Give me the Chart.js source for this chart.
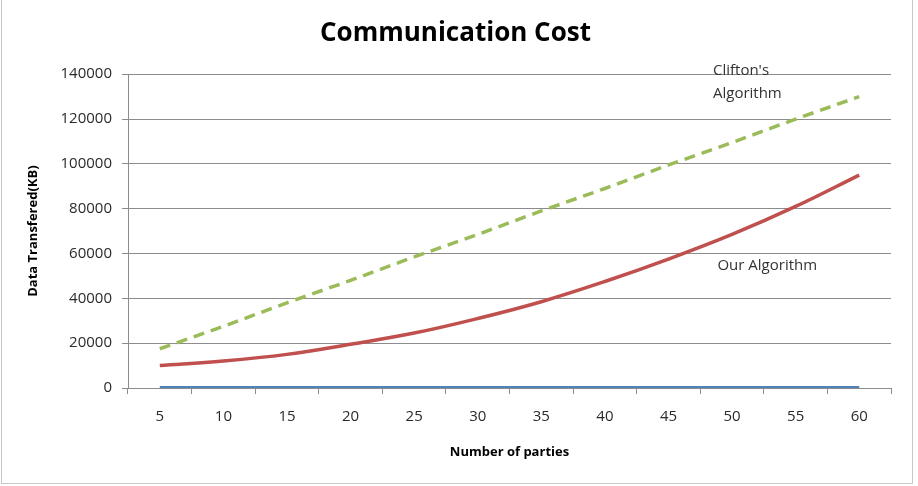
<!DOCTYPE html>
<html>
<head>
<meta charset="utf-8">
<script src="https://cdn.jsdelivr.net/npm/chart.js@4.4.1/dist/chart.umd.min.js"></script>
<style>
  html, body { margin: 0; padding: 0; background: #fff; }
  #wrap { position: relative; width: 918px; height: 486px; }
  #frame { position: absolute; left: 1px; top: 0; width: 912px; height: 484px;
           border-left: 1px solid #c8c8c8; border-right: 1px solid #c8c8c8; border-bottom: 1px solid #c8c8c8;
           box-sizing: border-box; pointer-events: none; }
</style>
</head>
<body>
<div id="wrap">
  <canvas id="chart" width="918" height="486"></canvas>
  <div id="frame"></div>
</div>
<script>
  // x categories: number of parties
  const parties = ['5', '10', '15', '20', '25', '30', '35', '40', '45', '50', '55', '60'];
  // Data transferred (KB)
  const baseline = [0, 0, 0, 0, 0, 0, 0, 0, 0, 0, 0, 0];
  const ourAlgorithm = [10000, 12000, 15000, 19500, 24500, 31000, 38500, 47500, 57500, 68500, 81000, 95000];
  const cliftons = [17500, 27500, 38000, 48000, 58500, 68500, 79000, 89000, 99500, 109500, 120000, 130000];
  const yTicks = [0, 20000, 40000, 60000, 80000, 100000, 120000, 140000];

  const FONT = '"Open Sans", "Liberation Sans", sans-serif';
  const GRID = '#8c8c8c';

  // in-plot text labels next to the curves
  const curveLabels = {
    id: 'curveLabels',
    afterDatasetsDraw(chart) {
      const { ctx, scales: { x, y } } = chart;
      ctx.save();
      ctx.font = '15px ' + FONT;
      ctx.fillStyle = '#333';
      ctx.textAlign = 'left';
      ctx.textBaseline = 'middle';
      ctx.fillText("Clifton's", x.getPixelForValue(8.7), y.getPixelForValue(141500));
      ctx.fillText('Algorithm', x.getPixelForValue(8.7), y.getPixelForValue(131500));
      ctx.fillText('Our Algorithm', x.getPixelForValue(8.77), y.getPixelForValue(54400));
      ctx.restore();
    }
  };

  new Chart(document.getElementById('chart').getContext('2d'), {
    type: 'line',
    data: {
      labels: parties,
      datasets: [
        { label: 'Baseline', data: baseline, borderColor: '#4f81bd', borderWidth: 4,
          pointRadius: 0, tension: 0, order: 0 },
        { label: 'Our Algorithm', data: ourAlgorithm, borderColor: '#c0504d', borderWidth: 3.5,
          pointRadius: 0, tension: 0.4, order: 1 },
        { label: "Clifton's Algorithm", data: cliftons, borderColor: '#9bbb59', borderWidth: 3.5,
          borderDash: [11, 7], pointRadius: 0, tension: 0, order: 2 },
      ],
    },
    options: {
      responsive: false, animation: false,
      layout: { padding: { left: 20, right: 27, top: 0, bottom: 0 } },
      plugins: {
        legend: { display: false },
        tooltip: { enabled: false },
        title: {
          display: true, text: 'Communication Cost', color: '#000',
          font: { family: FONT, size: 26, weight: 'bold' },
          padding: { top: 18, bottom: 25 },
        },
      },
      scales: {
        x: {
          offset: true,
          grid: { offset: true, drawOnChartArea: false, color: GRID, tickLength: 6 },
          border: { color: GRID },
          ticks: { color: '#2a2a2a', font: { family: FONT, size: 15 }, padding: 14, maxRotation: 0 },
          title: { display: true, text: 'Number of parties', color: '#000',
                   font: { family: FONT, size: 13, weight: 'bold' }, padding: { top: 0, bottom: 26 } },
          afterFit: (s) => { s.height = 98; },
        },
        y: {
          min: 0, max: 140000,
          afterBuildTicks: (s) => { s.ticks = yTicks.map(v => ({ value: v })); },
          grid: { color: GRID, tickLength: 6 },
          border: { color: GRID },
          ticks: { color: '#2a2a2a', font: { family: FONT, size: 15 }, padding: 10,
                   callback: (v) => String(v) },
          title: { display: true, text: 'Data Transfered(KB)', color: '#000',
                   font: { family: FONT, size: 13, weight: 'bold' }, padding: { top: 5, bottom: 0 } },
          afterFit: (s) => { s.width = 108; },
        },
      },
    },
    plugins: [curveLabels],
  });
</script>
</body>
</html>
